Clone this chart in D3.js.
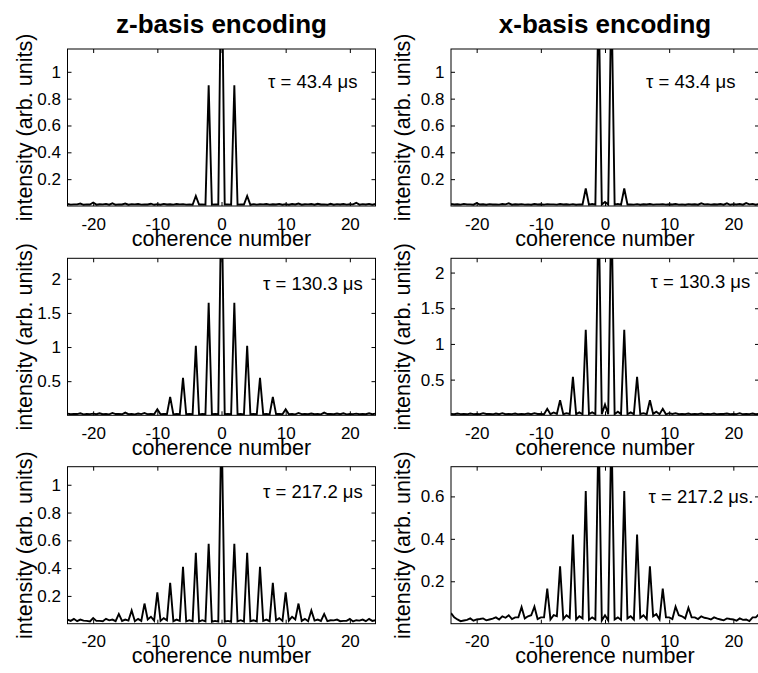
<!DOCTYPE html>
<meta charset="utf-8">
<script src="https://d3js.org/d3.v7.min.js"></script>
<style>
body { margin: 0; background: #fff; }
svg { display: block; font-family: 'Liberation Sans', Arial, Helvetica, sans-serif; }
.title { font-size: 26px; font-weight: bold; }
.tick text { font-size: 17px; fill: #000; }
.tick line { stroke: #000; }
.xlabel, .ylabel { font-size: 21.5px; }
.tau { font-size: 18.5px; }
.trace { fill: none; stroke: #000; stroke-width: 1.9; stroke-linejoin: miter; }
</style>
<body>
<svg width="758" height="673"></svg>
<script>
// coherence numbers: integer points -24..24 and half points -23.5..23.5
const cohInt = d3.range(-24, 25);
const cohHalf = d3.range(-23.5, 24, 1);

const xTicks = [-20, -10, 0, 10, 20];
const titles = ['z-basis encoding', 'x-basis encoding'];
const tauLabels = ['\u03c4 = 43.4 \u03bcs', '\u03c4 = 130.3 \u03bcs', '\u03c4 = 217.2 \u03bcs', '\u03c4 = 217.2 \u03bcs.'];

// z-basis, tau = 43.4 us
const zPeak1 = [0.015, 0.012, 0.018, 0.012, 0.026, 0.013, 0.016, 0.02, 0.012, 0.018,
  0.014, 0.015, 0.012, 0.017, 0.014, 0.016, 0.013, 0.015, 0.014, 0.012,
  0.075, 0.012, 0.90, 0.012, 2.0, 0.012, 0.90, 0.012, 0.075, 0.014,
  0.013, 0.015, 0.013, 0.016, 0.014, 0.015, 0.018, 0.013, 0.015, 0.017,
  0.012, 0.016, 0.014, 0.015, 0.013, 0.024, 0.014, 0.016, 0.015];
const zGap1 = [0.010, 0.012, 0.009, 0.011, 0.010, 0.012, 0.010, 0.009, 0.011, 0.010,
  0.012, 0.010, 0.011, 0.009, 0.010, 0.011, 0.010, 0.012, 0.010, 0.009,
  0.011, 0.010, 0.010, 0.011, 0.011, 0.010, 0.010, 0.011, 0.009, 0.010,
  0.012, 0.010, 0.011, 0.010, 0.009, 0.011, 0.010, 0.012, 0.010, 0.011,
  0.009, 0.010, 0.011, 0.010, 0.012, 0.010, 0.011, 0.010];

// x-basis, tau = 43.4 us
const xPeak1 = [0.015, 0.013, 0.016, 0.012, 0.022, 0.013, 0.014, 0.012, 0.015, 0.020,
  0.013, 0.014, 0.012, 0.015, 0.013, 0.014, 0.012, 0.015, 0.013, 0.014,
  0.012, 0.13, 0.015, 1.6, 0.03, 1.6, 0.015, 0.13, 0.012, 0.014,
  0.013, 0.015, 0.012, 0.014, 0.013, 0.015, 0.012, 0.014, 0.013, 0.020,
  0.014, 0.013, 0.015, 0.020, 0.014, 0.015, 0.022, 0.016, 0.014];
const xGap1 = [0.011, 0.010, 0.012, 0.010, 0.011, 0.009, 0.011, 0.010, 0.012, 0.010,
  0.011, 0.010, 0.009, 0.011, 0.010, 0.012, 0.010, 0.011, 0.010, 0.009,
  0.011, 0.010, 0.010, 0.011, 0.011, 0.010, 0.010, 0.011, 0.010, 0.009,
  0.011, 0.010, 0.012, 0.010, 0.011, 0.010, 0.009, 0.011, 0.010, 0.012,
  0.010, 0.011, 0.010, 0.009, 0.011, 0.010, 0.012, 0.010];

// z-basis, tau = 130.3 us
const zPeak2 = [0.025, 0.02, 0.03, 0.02, 0.025, 0.03, 0.02, 0.035, 0.02, 0.04,
  0.02, 0.025, 0.035, 0.02, 0.09, 0.02, 0.27, 0.02, 0.55, 0.02,
  1.02, 0.02, 1.65, 0.02, 3.4, 0.02, 1.65, 0.02, 1.02, 0.02,
  0.55, 0.02, 0.27, 0.02, 0.09, 0.02, 0.035, 0.02, 0.025, 0.02,
  0.04, 0.02, 0.025, 0.03, 0.02, 0.025, 0.02, 0.03, 0.025];
const zGap2 = [0.015, 0.018, 0.014, 0.017, 0.015, 0.016, 0.014, 0.018, 0.015, 0.016,
  0.014, 0.017, 0.015, 0.016, 0.015, 0.018, 0.014, 0.016, 0.015, 0.017,
  0.014, 0.016, 0.015, 0.015, 0.015, 0.015, 0.016, 0.014, 0.017, 0.015,
  0.016, 0.014, 0.018, 0.015, 0.016, 0.014, 0.017, 0.015, 0.016, 0.014,
  0.018, 0.015, 0.016, 0.014, 0.017, 0.015, 0.016, 0.015];

// x-basis, tau = 130.3 us
const xPeak2 = [0.02, 0.025, 0.02, 0.025, 0.02, 0.03, 0.02, 0.025, 0.03, 0.02,
  0.025, 0.02, 0.025, 0.03, 0.02, 0.09, 0.04, 0.21, 0.03, 0.54,
  0.04, 1.2, 0.04, 3.0, 0.15, 3.0, 0.05, 1.2, 0.04, 0.54,
  0.03, 0.21, 0.05, 0.09, 0.03, 0.03, 0.02, 0.025, 0.02, 0.025,
  0.02, 0.025, 0.02, 0.025, 0.02, 0.03, 0.02, 0.025, 0.02];
const xGap2 = [0.015, 0.017, 0.014, 0.016, 0.015, 0.018, 0.014, 0.016, 0.015, 0.017,
  0.014, 0.016, 0.015, 0.018, 0.014, 0.016, 0.02, 0.015, 0.018, 0.016,
  0.015, 0.017, 0.016, 0.015, 0.015, 0.016, 0.017, 0.015, 0.016, 0.018,
  0.015, 0.02, 0.016, 0.014, 0.018, 0.015, 0.016, 0.014, 0.017, 0.015,
  0.016, 0.014, 0.018, 0.015, 0.016, 0.014, 0.017, 0.015];

// z-basis, tau = 217.2 us
const zPeak3 = [0.03, 0.035, 0.03, 0.02, 0.04, 0.02, 0.035, 0.03, 0.07, 0.03,
  0.095, 0.035, 0.145, 0.05, 0.225, 0.04, 0.295, 0.03, 0.41, 0.025,
  0.51, 0.025, 0.575, 0.02, 1.5, 0.02, 0.575, 0.025, 0.51, 0.025,
  0.41, 0.03, 0.295, 0.04, 0.225, 0.05, 0.145, 0.035, 0.095, 0.03,
  0.07, 0.025, 0.03, 0.02, 0.035, 0.025, 0.03, 0.035, 0.025];
const zGap3 = [0.02, 0.018, 0.022, 0.016, 0.02, 0.018, 0.024, 0.018, 0.02, 0.022,
  0.018, 0.02, 0.03, 0.022, 0.02, 0.025, 0.018, 0.02, 0.016, 0.018,
  0.015, 0.016, 0.014, 0.015, 0.015, 0.014, 0.016, 0.015, 0.018, 0.016,
  0.02, 0.018, 0.025, 0.02, 0.022, 0.03, 0.02, 0.018, 0.022, 0.02,
  0.018, 0.024, 0.018, 0.02, 0.016, 0.022, 0.018, 0.02];

// x-basis, tau = 217.2 us
const xPeak3 = [0.05, 0.02, 0.015, 0.025, 0.02, 0.025, 0.02, 0.03, 0.035, 0.04,
  0.03, 0.078, 0.035, 0.08, 0.03, 0.165, 0.04, 0.27, 0.04, 0.42,
  0.035, 0.625, 0.03, 0.95, 0.04, 0.95, 0.03, 0.625, 0.035, 0.42,
  0.04, 0.27, 0.045, 0.165, 0.03, 0.08, 0.035, 0.075, 0.03, 0.035,
  0.025, 0.03, 0.02, 0.025, 0.02, 0.025, 0.02, 0.03, 0.045];
const xGap3 = [0.03, 0.012, 0.018, 0.014, 0.022, 0.016, 0.024, 0.02, 0.028, 0.022,
  0.03, 0.025, 0.04, 0.022, 0.03, 0.02, 0.035, 0.022, 0.028, 0.02,
  0.025, 0.018, 0.02, 0.015, 0.015, 0.02, 0.018, 0.025, 0.02, 0.028,
  0.022, 0.035, 0.02, 0.03, 0.022, 0.04, 0.025, 0.03, 0.022, 0.028,
  0.02, 0.024, 0.016, 0.022, 0.014, 0.018, 0.012, 0.03];

const yDomains = [[0, 1.17], [0, 1.17], [0, 2.3], [0, 2.2], [0, 1.13], [0, 0.74]];
const yTicks = [[0.2, 0.4, 0.6, 0.8, 1], [0.2, 0.4, 0.6, 0.8, 1], [0.5, 1, 1.5, 2],
  [0.5, 1, 1.5, 2], [0.2, 0.4, 0.6, 0.8, 1], [0.2, 0.4, 0.6]];

const panels = [
  { col: 0, row: 0, peak: zPeak1, gap: zGap1, tau: tauLabels[0], tx: 200.5, ty: 39 },
  { col: 1, row: 0, peak: xPeak1, gap: xGap1, tau: tauLabels[0], tx: 195, ty: 39 },
  { col: 0, row: 1, peak: zPeak2, gap: zGap2, tau: tauLabels[1], tx: 195.5, ty: 32 },
  { col: 1, row: 1, peak: xPeak2, gap: xGap2, tau: tauLabels[1], tx: 199.5, ty: 30 },
  { col: 0, row: 2, peak: zPeak3, gap: zGap3, tau: tauLabels[2], tx: 195.5, ty: 31.5 },
  { col: 1, row: 2, peak: xPeak3, gap: xGap3, tau: tauLabels[3], tx: 197.5, ty: 36 }
];

const cols = [{ x0: 67.5, x1: 375.5, labelX: 32 }, { x0: 451, x1: 759, labelX: 410 }];
const rowTops = [49, 258.3, 466.7];
const ph = 157;
const tickLen = 4;

const svg = d3.select('svg');

titles.forEach((t, i) => {
  svg.append('text')
    .attr('class', 'title')
    .attr('x', (cols[i].x0 + cols[i].x1) / 2)
    .attr('y', 33)
    .attr('text-anchor', 'middle')
    .text(t);
});

panels.forEach((p, i) => {
  const c = cols[p.col];
  const top = rowTops[p.row];
  const pw = c.x1 - c.x0;

  const x = d3.scaleLinear().domain([-24, 24]).range([0, pw]);
  const y = d3.scaleLinear().domain(yDomains[i]).range([ph, 0]);

  const g = svg.append('g').attr('transform', `translate(${c.x0},${top})`);

  g.append('clipPath').attr('id', 'clip' + i)
    .append('rect').attr('width', pw).attr('height', ph);

  // merge integer and half-integer samples
  const pts = [];
  cohInt.forEach((n, k) => {
    pts.push([n, p.peak[k]]);
    if (k < cohHalf.length) pts.push([cohHalf[k], p.gap[k]]);
  });

  const line = d3.line().x(d => x(d[0])).y(d => y(d[1]));

  g.append('path')
    .attr('class', 'trace')
    .attr('clip-path', `url(#clip${i})`)
    .attr('d', line(pts));

  g.append('g')
    .attr('transform', `translate(0,${ph})`)
    .call(d3.axisBottom(x).tickValues(xTicks).tickSize(-tickLen).tickPadding(11.5)
      .tickFormat(d => String(d)));
  g.append('g')
    .call(d3.axisTop(x).tickValues(xTicks).tickSize(-tickLen).tickFormat(''));
  g.append('g')
    .call(d3.axisLeft(y).tickValues(yTicks[i]).tickSize(-tickLen).tickPadding(6.5)
      .tickFormat(d => String(d)));
  g.append('g')
    .attr('transform', `translate(${pw},0)`)
    .call(d3.axisRight(y).tickValues(yTicks[i]).tickSize(-tickLen).tickFormat(''));
  g.selectAll('.domain').remove();
  g.selectAll('.tick text').attr('font-family', null).attr('font-size', null);

  g.append('rect')
    .attr('width', pw).attr('height', ph)
    .attr('fill', 'none').attr('stroke', '#000').attr('stroke-width', 1);

  g.append('text')
    .attr('class', 'tau')
    .attr('x', p.tx)
    .attr('y', p.ty)
    .text(p.tau);

  g.append('text')
    .attr('class', 'xlabel')
    .attr('x', pw / 2)
    .attr('y', ph + 39.5)
    .attr('text-anchor', 'middle')
    .text('coherence number');

  svg.append('text')
    .attr('class', 'ylabel')
    .attr('transform', `translate(${c.labelX},${top + ph / 2}) rotate(-90)`)
    .attr('text-anchor', 'middle')
    .text('intensity (arb. units)');
});
</script>
</body>
